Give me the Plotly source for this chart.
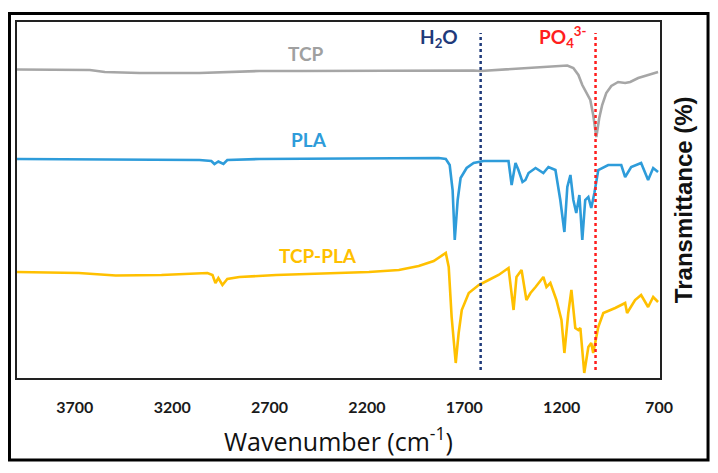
import plotly.graph_objects as go

# ---- data (wavenumber in cm-1, transmittance in arbitrary offset units) ----
tcp_wn = [3997, 3777, 3623, 3546, 3367, 3060, 2906, 2753, 2548, 2036, 1729, 1652, 1616,
          1575, 1422, 1217, 1171, 1140, 1114, 1094, 1073, 1053, 1038, 1022, 1007, 992,
          971, 945, 910, 874, 848, 807, 756, 705]
tcp_t = [308.5, 308.5, 308, 306, 305, 305, 306, 307, 307, 307.5, 308, 307.5, 307,
         307.5, 309, 312, 312.5, 310, 303, 293, 286, 278, 263, 241, 260, 273,
         285, 292, 296, 295, 296, 300, 303, 306]

pla_wn = [3997, 3572, 3060, 2999, 2983, 2963, 2937, 2917, 2753, 2292, 1831, 1795, 1775,
          1760, 1749, 1734, 1719, 1688, 1652, 1601, 1473, 1457, 1437, 1422, 1401, 1386,
          1370, 1334, 1294, 1268, 1232, 1207, 1186, 1171, 1155, 1140, 1125, 1109, 1094,
          1079, 1063, 1048, 1032, 1012, 961, 894, 874, 843, 792, 756, 730, 705]
pla_t = [219, 218.5, 218, 217, 214, 216.5, 214, 218, 219, 219.5, 220, 219, 213,
         188, 138, 178, 200, 210, 215, 217, 217, 193, 215, 208, 196, 198,
         205, 210, 205, 211, 208, 178, 146, 191, 203, 178, 165, 183, 138,
         178, 181, 170, 185, 208, 213, 213, 201, 211, 215, 198, 210, 206]

mix_wn = [3997, 3680, 3490, 3255, 3019, 2993, 2978, 2963, 2942, 2917, 2855, 2666, 2190,
          2036, 1934, 1857, 1795, 1780, 1765, 1744, 1729, 1713, 1677, 1626, 1575, 1524,
          1473, 1447, 1432, 1406, 1381, 1360, 1334, 1294, 1278, 1258, 1227, 1201, 1186,
          1166, 1150, 1130, 1114, 1104, 1084, 1063, 1048, 1038, 1012, 986, 925, 874,
          864, 823, 792, 756, 730, 705]
mix_t = [106, 105, 102.5, 103, 105, 103, 95, 100, 93, 99, 101, 103, 106,
         108, 112, 117, 125, 111, 61, 15, 45, 68, 85, 93, 98, 103,
         110, 68, 101, 108, 78, 85, 91, 101, 91, 95, 78, 58, 25,
         65, 88, 50, 48, 50, 5, 31, 35, 25, 51, 65, 70, 75,
         65, 78, 83, 71, 81, 76]

band_names = ["H2O", "PO4"]
band_wn = [1616, 1026]

x_ticks = [3700, 3200, 2700, 2200, 1700, 1200, 700]

series = [
    ("TCP", tcp_wn, tcp_t, "#A6A6A6"),
    ("PLA", pla_wn, pla_t, "#2E9CDA"),
    ("TCP-PLA", mix_wn, mix_t, "#FFC000"),
]

fig = go.Figure()
for name, wn, t, col in series:
    fig.add_trace(go.Scatter(x=wn, y=t, mode="lines", name=name,
                             line=dict(color=col, width=2.6), hoverinfo="x+y"))

band_colors = ["#1F3A7A", "#FF1E1E"]
for wn, col in zip(band_wn, band_colors):
    fig.add_shape(type="line", xref="x", yref="y", x0=wn, x1=wn, y0=8, y1=345,
                  line=dict(color=col, width=2.5, dash="dot"))

lbl_font = "Lato, 'Noto Sans', sans-serif"
fig.add_annotation(x=2512, y=325, xref="x", yref="y", text="TCP", showarrow=False,
                   font=dict(family=lbl_font, size=19, color="#A0A0A0", weight="bold"))
fig.add_annotation(x=2497, y=239, xref="x", yref="y", text="PLA", showarrow=False,
                   font=dict(family=lbl_font, size=19, color="#2E9CDA", weight="bold"))
fig.add_annotation(x=2451, y=123, xref="x", yref="y", text="TCP-PLA", showarrow=False,
                   font=dict(family=lbl_font, size=19, color="#FFC000", weight="bold"))
fig.add_annotation(x=1831, y=340, xref="x", yref="y", text="H<sub>2</sub>O", showarrow=False,
                   font=dict(family=lbl_font, size=19, color="#1F3A7A", weight="bold"))
fig.add_annotation(x=1193, y=341, xref="x", yref="y", text="PO<sub>4</sub><sup>3-</sup>",
                   showarrow=False,
                   font=dict(family=lbl_font, size=19, color="#FF1E1E", weight="bold"))

# axis titles
fig.add_annotation(x=0.5, y=-0.174, xref="paper", yref="paper",
                   text="Wavenumber (cm<sup>-1</sup>)", showarrow=False,
                   xanchor="center", yanchor="middle",
                   font=dict(family="'Open Sans', 'Noto Sans', sans-serif", size=25,
                             color="#111111", weight=500))
fig.add_annotation(x=1.036, y=0.5, xref="paper", yref="paper",
                   text="Transmittance (%)", showarrow=False, textangle=-90,
                   xanchor="center", yanchor="middle",
                   font=dict(family="'Liberation Sans', Arial, sans-serif", size=24,
                             color="#111111", weight="bold"))

# outer frame
fig.add_shape(type="rect", xref="paper", yref="paper",
              x0=-0.0117, x1=1.0747, y0=-0.2303, y1=1.0239,
              line=dict(color="black", width=3), fillcolor="rgba(0,0,0,0)")

# page body has an 8px margin, so the figure is 8px smaller and margins shifted
fig.update_layout(
    width=710, height=465,
    margin=dict(l=9, r=58, t=14, b=95),
    paper_bgcolor="white", plot_bgcolor="white",
    showlegend=False,
    xaxis=dict(range=[3997, 695], tickvals=x_ticks, ticks="", showgrid=False,
               zeroline=False, showline=True, linecolor="#222222", linewidth=1.5,
               mirror=True, ticklabelstandoff=14,
               tickfont=dict(family=lbl_font, size=16, color="#1a1a1a", weight="bold")),
    yaxis=dict(range=[0, 356], showticklabels=False, ticks="", showgrid=False,
               zeroline=False, showline=True, linecolor="#222222", linewidth=1.5,
               mirror=True),
)

fig.write_html("out.html")
